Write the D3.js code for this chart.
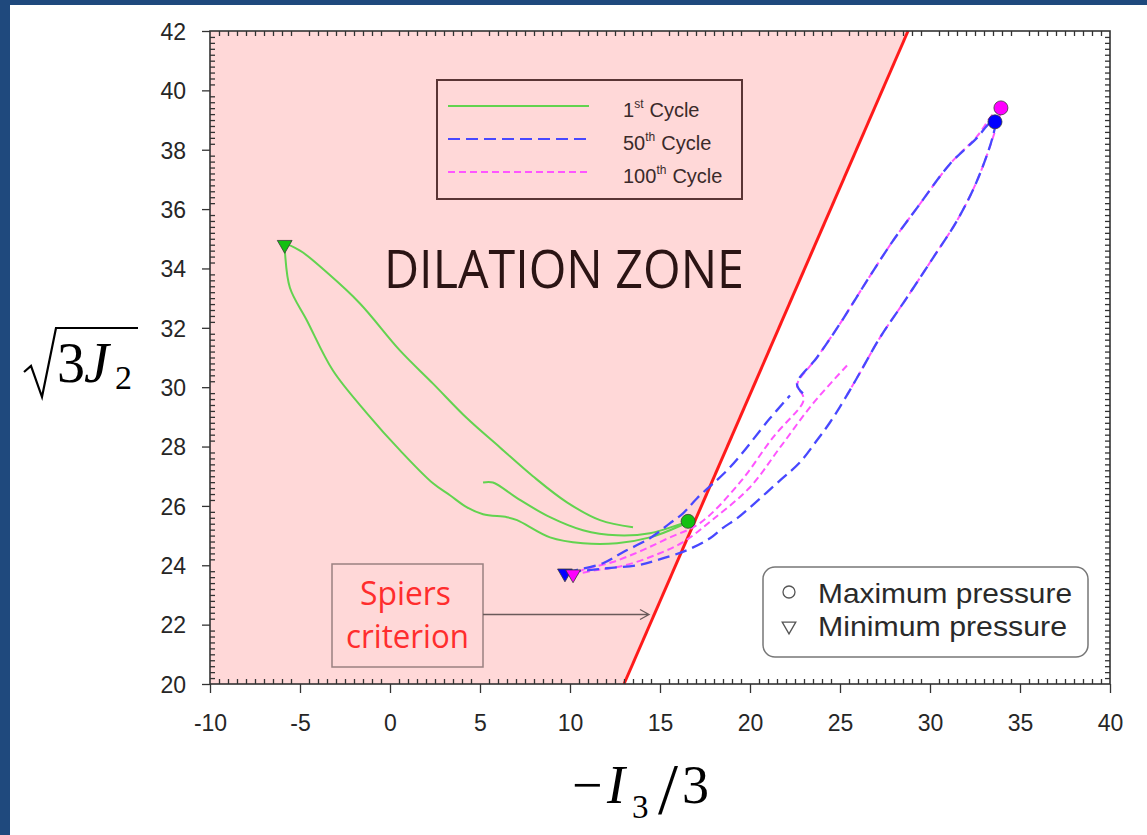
<!DOCTYPE html>
<html>
<head>
<meta charset="utf-8">
<script src="https://cdn.jsdelivr.net/npm/d3@7"></script>
<style>
  body { margin: 0; background: #fff; }
  svg { display: block; }
</style>
</head>
<body>
<svg id="chart" width="1147" height="835"></svg>
<script>
// ---- Axis ticks ----
const xTicks = [-10, -5, 0, 5, 10, 15, 20, 25, 30, 35, 40];
const yTicks = [20, 22, 24, 26, 28, 30, 32, 34, 36, 38, 40, 42];

// ---- Stress paths [-I3/3, sqrt(3 J2)] ----
const cycle1 = [
  [5.17, 26.79], [5.72, 26.79], [7.06, 26.26], [8.89, 25.62], [10.72, 25.18],
  [12.61, 25.01], [14.44, 25.08], [16.28, 25.42], [16.56, 25.48],
  [15.94, 25.28], [14.44, 24.94], [12.61, 24.74], [10.72, 24.74], [8.89, 24.94],
  [7.06, 25.52], [6.5, 25.62], [5.17, 25.72], [4.28, 25.95], [3.33, 26.36],
  [2.39, 26.76], [0.56, 27.87], [-1.28, 29.12], [-3.17, 30.56], [-4.61, 32.24],
  [-5.56, 33.35], [-5.83, 34.5], [-5.85, 34.8],
  [-5.0, 34.6], [-3.5, 33.86], [-1.67, 32.82], [0.56, 31.23], [2.39, 30.12],
  [4.28, 28.95], [6.11, 27.97], [7.94, 27.0], [9.83, 26.12], [11.67, 25.52],
  [13.5, 25.28]
];

const cycle50 = [
  [22.94, 29.79], [22.61, 30.12],
  [23.72, 31.0], [25.0, 32.14], [26.5, 33.59], [27.94, 34.93], [29.28, 36.04],
  [31.11, 37.52], [32.61, 38.4], [33.33, 38.9], [33.61, 38.94],
  [33.5, 38.47], [32.61, 36.95], [31.5, 35.61], [30.17, 34.36], [28.72, 33.02],
  [27.22, 31.67], [26.11, 30.49], [25.28, 29.62], [24.44, 28.81], [23.72, 28.21],
  [22.78, 27.47], [21.67, 26.86], [20.0, 25.95], [19.28, 25.58], [18.5, 25.26],
  [17.78, 24.91], [16.5, 24.51], [14.83, 24.17], [13.72, 24.0], [12.06, 23.9],
  [10.5, 23.8], [9.72, 23.73],
  [10.28, 23.83], [11.83, 24.07], [12.94, 24.44], [14.44, 24.91], [15.56, 25.42],
  [16.28, 25.75], [17.06, 26.26], [18.89, 27.3], [21.11, 28.95], [22.22, 29.72]
];

const cycle100 = [
  [25.39, 30.73], [23.5, 29.45], [21.67, 27.97], [20.0, 26.63], [17.89, 25.52],
  [16.28, 24.78], [14.72, 24.34], [13.06, 24.0], [11.39, 23.83], [10.17, 23.7],
  [10.83, 23.87], [12.33, 24.1], [13.89, 24.47], [15.44, 24.91], [17.22, 25.42],
  [19.44, 26.79], [21.28, 28.31], [22.94, 29.49], [22.94, 29.72], [22.61, 30.06],
  [23.72, 31.0], [25.0, 32.14], [26.5, 33.59], [27.94, 34.93], [29.28, 36.04],
  [31.11, 37.52], [32.61, 38.45], [33.5, 39.2], [33.94, 39.41],
  [33.7, 38.8], [32.61, 36.95], [31.5, 35.61], [30.17, 34.36], [28.72, 33.02],
  [27.22, 31.67], [26.11, 30.49], [25.4, 29.75]
];

// ---- Pressure extremes per cycle ----
const maxPressure = [
  { cycle: "100th", x: 33.94, y: 39.41 },
  { cycle: "50th",  x: 33.61, y: 38.94 },
  { cycle: "1st",   x: 16.56, y: 25.48 }
];
const minPressure = [
  { cycle: "1st",   x: -5.85, y: 34.8 },
  { cycle: "50th",  x: 9.72,  y: 23.73 },
  { cycle: "100th", x: 10.17, y: 23.7 }
];

// ---- Spiers criterion boundary ----
const spiersLine = [[13.0, 20], [28.78, 42]];

const legendCycles = [
  { key: "1st",   num: "1",   sup: "st" },
  { key: "50th",  num: "50",  sup: "th" },
  { key: "100th", num: "100", sup: "th" }
];

const colors = { "1st": "#62d34f", "50th": "#4848ff", "100th": "#ff55ff" };
const dashes = { "1st": null, "50th": "12,6", "100th": "7,4" };
const markerFill = { "1st": "#12c012", "50th": "#0000ff", "100th": "#ff00ff" };

// ---- Layout ----
const svg = d3.select("#chart");
const x = d3.scaleLinear().domain([-10, 40]).range([210, 1110]);
const y = d3.scaleLinear().domain([20, 42]).range([684, 31]);

// page frame bands
svg.append("rect").attr("x", 0).attr("y", 0).attr("width", 1147).attr("height", 5).attr("fill", "#1f497d");
svg.append("rect").attr("x", 0).attr("y", 0).attr("width", 10).attr("height", 835).attr("fill", "#1f497d");

// dilation zone: left of the Spiers line
const zone = [[x.domain()[0], spiersLine[0][1]], spiersLine[0], spiersLine[1], [x.domain()[0], spiersLine[1][1]]];
svg.append("path")
  .attr("d", "M" + zone.map(p => [x(p[0]), y(p[1])].join(",")).join("L") + "Z")
  .attr("fill", "#ffd8d8");

// Spiers line
svg.append("line")
  .attr("x1", x(spiersLine[0][0])).attr("y1", y(spiersLine[0][1]))
  .attr("x2", x(spiersLine[1][0])).attr("y2", y(spiersLine[1][1]))
  .attr("stroke", "#ff1a1a").attr("stroke-width", 3);

// ---- Axes ----
const tickColor = "#333";
const plainNum = d => String(d);   // ASCII hyphen for negatives
const xMinor = d3.range(-10, 40.001, 0.5).filter(v => Math.abs(v % 5) > 1e-6);
const yMinor = d3.range(20, 42.001, 0.2).map(v => +v.toFixed(1)).filter(v => Math.abs(v % 2) > 1e-6 && Math.abs(v % 2 - 2) > 1e-6);
const yMinorAll = d3.range(20.2, 41.9, 0.2).map(v => +v.toFixed(1));

function styleAxis(g) {
  g.select(".domain").remove();
  g.selectAll(".tick line").attr("stroke", tickColor).attr("stroke-width", 1.3);
  g.selectAll("text")
    .attr("fill", "#262626")
    .style("font-family", "'Liberation Sans', Arial, sans-serif")
    .style("font-size", "23px");
}

// bottom majors (outward) + minors (inward)
svg.append("g").attr("transform", `translate(0,${y(20)})`)
  .call(d3.axisBottom(x).tickValues(xTicks).tickFormat(plainNum).tickSize(9).tickSizeOuter(0))
  .call(styleAxis)
  .call(g => g.selectAll("text").attr("y", 47).attr("dy", 0));
svg.append("g").attr("transform", `translate(0,${y(20)})`)
  .call(d3.axisBottom(x).tickValues(xMinor).tickSize(-5).tickFormat(""))
  .call(styleAxis);
// top minors
svg.append("g").attr("transform", `translate(0,${y(42)})`)
  .call(d3.axisTop(x).tickValues(xMinor).tickSize(-5).tickFormat(""))
  .call(styleAxis);
// left majors + minors
svg.append("g").attr("transform", `translate(${x(-10)},0)`)
  .call(d3.axisLeft(y).tickValues(yTicks).tickFormat(plainNum).tickSize(8).tickSizeOuter(0))
  .call(styleAxis)
  .call(g => g.selectAll("text").attr("x", -24).attr("dy", "0.36em"));
svg.append("g").attr("transform", `translate(${x(-10)},0)`)
  .call(d3.axisLeft(y).tickValues(yMinor).tickSize(-5).tickFormat(""))
  .call(styleAxis);
// right minors
svg.append("g").attr("transform", `translate(${x(40)},0)`)
  .call(d3.axisRight(y).tickValues(yMinorAll).tickSize(-5).tickFormat(""))
  .call(styleAxis);

// plot frame
svg.append("rect")
  .attr("x", x(-10)).attr("y", y(42))
  .attr("width", x(40) - x(-10)).attr("height", y(20) - y(42))
  .attr("fill", "none").attr("stroke", "#333").attr("stroke-width", 1.6);

// ---- Stress paths ----
const line = d3.line()
  .x(d => x(d[0])).y(d => y(d[1]))
  .curve(d3.curveCatmullRom.alpha(0.5));

const paths = [
  { key: "1st", data: cycle1 },
  { key: "100th", data: cycle100 },
  { key: "50th", data: cycle50 }
];
svg.append("g").selectAll("path").data(paths).join("path")
  .attr("d", d => line(d.data))
  .attr("fill", "none")
  .attr("stroke", d => colors[d.key])
  .attr("stroke-width", d => d.key === "50th" ? 2.3 : 2)
  .attr("stroke-dasharray", d => dashes[d.key]);

// ---- Markers ----
svg.append("g").selectAll("circle").data(maxPressure).join("circle")
  .attr("cx", d => x(d.x)).attr("cy", d => y(d.y)).attr("r", 7)
  .attr("fill", d => markerFill[d.cycle])
  .attr("stroke", "#3a3a3a").attr("stroke-width", 0.8);

const tri = d3.symbol().type(d3.symbolTriangle).size(95);
svg.append("g").selectAll("path").data(minPressure).join("path")
  .attr("d", tri)
  .attr("transform", d => `translate(${x(d.x)},${y(d.y)}) rotate(180)`)
  .attr("fill", d => markerFill[d.cycle])
  .attr("stroke", "#3a3a3a").attr("stroke-width", 0.8);

// ---- Cycle legend ----
const lg = svg.append("g");
lg.append("rect").attr("x", 437).attr("y", 80).attr("width", 305).attr("height", 119)
  .attr("fill", "none").attr("stroke", "#5a3535").attr("stroke-width", 2);
legendCycles.forEach((c, i) => {
  const ly = 106 + i * 33;
  lg.append("line").attr("x1", 448).attr("x2", 589).attr("y1", ly).attr("y2", ly)
    .attr("stroke", colors[c.key]).attr("stroke-width", 2.2)
    .attr("stroke-dasharray", dashes[c.key]);
  const t = lg.append("text").attr("x", 623).attr("y", ly + 11)
    .attr("fill", "#3a2a2a")
    .style("font-family", "'Liberation Sans', Arial, sans-serif")
    .style("font-size", "20px");
  t.append("tspan").text(c.num);
  t.append("tspan").attr("dy", -9).style("font-size", "12px").text(c.sup);
  t.append("tspan").attr("dy", 9).attr("dx", 6).text("Cycle");
});

// ---- Zone label ----
svg.append("text").attr("x", 384).attr("y", 288)
  .attr("textLength", 360).attr("lengthAdjust", "spacingAndGlyphs")
  .attr("fill", "#2b1414")
  .style("font-family", "'Open Sans', sans-serif").style("font-size", "53px")
  .text("DILATION ZONE");

// ---- Spiers criterion callout ----
svg.append("rect").attr("x", 332).attr("y", 564).attr("width", 151).attr("height", 103)
  .attr("fill", "none").attr("stroke", "#9a8080").attr("stroke-width", 1.5);
const spiersText = svg.append("text")
  .attr("fill", "#ff2d2d")
  .style("font-family", "'Open Sans', sans-serif").style("font-size", "33px");
[["Spiers", 360, 605, 91], ["criterion", 346, 648, 123]].forEach(([s, tx, ty, w]) => {
  spiersText.append("tspan").attr("x", tx).attr("y", ty)
    .attr("textLength", w).attr("lengthAdjust", "spacingAndGlyphs").text(s);
});
svg.append("path")
  .attr("d", "M483,614.5 L649,614.5 M640,609.5 L649,614.5 L640,619.5")
  .attr("fill", "none").attr("stroke", "#6a5a5a").attr("stroke-width", 1.3);

// ---- Marker legend ----
const ml = svg.append("g");
ml.append("rect").attr("x", 763).attr("y", 567).attr("width", 325).attr("height", 90)
  .attr("rx", 12).attr("fill", "#fff").attr("stroke", "#777").attr("stroke-width", 1.5);
ml.append("circle").attr("cx", 789).attr("cy", 592).attr("r", 6)
  .attr("fill", "none").attr("stroke", "#555").attr("stroke-width", 1.3);
ml.append("path").attr("d", d3.symbol().type(d3.symbolTriangle).size(80)())
  .attr("transform", "translate(789,626) rotate(180)")
  .attr("fill", "none").attr("stroke", "#555").attr("stroke-width", 1.3);
[["Maximum pressure", 603, 254], ["Minimum pressure", 636, 249]].forEach(([s, ty, w]) => {
  ml.append("text").attr("x", 818).attr("y", ty)
    .attr("textLength", w).attr("lengthAdjust", "spacingAndGlyphs")
    .attr("fill", "#2a2a2a")
    .style("font-family", "'Liberation Sans', Arial, sans-serif").style("font-size", "28px")
    .text(s);
});

// ---- Axis titles ----
const serif = "'Liberation Serif', 'Times New Roman', serif";
// y: sqrt(3 J2)
svg.append("path")
  .attr("d", "M24,372 L31,366 L42,397 L56,328 L138,328")
  .attr("fill", "none").attr("stroke", "#000").attr("stroke-width", 2.2)
  .attr("stroke-linejoin", "miter");
svg.append("text").attr("x", 57).attr("y", 382).attr("fill", "#000")
  .style("font-family", serif).style("font-size", "56px").text("3");
svg.append("text").attr("x", 84).attr("y", 382).attr("fill", "#000")
  .style("font-family", serif).style("font-size", "56px").style("font-style", "italic").text("J");
svg.append("text").attr("x", 115).attr("y", 389).attr("fill", "#000")
  .style("font-family", serif).style("font-size", "34px").text("2");

// x: -I3/3
svg.append("text").attr("x", 572).attr("y", 803).attr("fill", "#000")
  .style("font-family", serif).style("font-size", "54px").text("\u2212");
svg.append("text").attr("x", 607).attr("y", 803).attr("fill", "#000")
  .style("font-family", serif).style("font-size", "54px").style("font-style", "italic").text("I");
svg.append("text").attr("x", 632).attr("y", 818).attr("fill", "#000")
  .style("font-family", serif).style("font-size", "33px").text("3");
svg.append("text").attr("x", 658).attr("y", 813).attr("fill", "#000")
  .style("font-family", serif).style("font-size", "72px").text("/");
svg.append("text").attr("x", 682).attr("y", 803).attr("fill", "#000")
  .style("font-family", serif).style("font-size", "54px").text("3");
</script>
</body>
</html>
